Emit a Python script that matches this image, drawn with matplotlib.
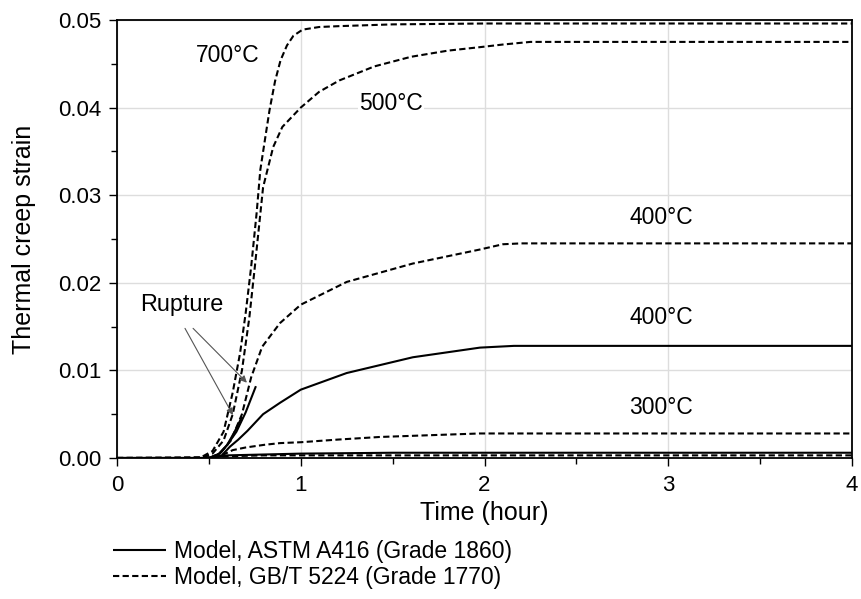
import matplotlib
matplotlib.use("Agg")
import matplotlib.pyplot as plt

plt.rcParams['font.family'] = ['Liberation Sans', 'DejaVu Sans']

# GB/T 5224 (dashed) series
t_d700 = [0, 0.45, 0.52, 0.58, 0.63, 0.67, 0.70, 0.73, 0.76, 0.78, 0.81, 0.83, 0.86, 0.89, 0.925, 0.96, 1.01, 1.1, 1.21, 1.5, 2.0, 4.0]
e_d700 = [0, 0, 0.0008, 0.003, 0.0075, 0.012, 0.0165, 0.0218, 0.028, 0.0329, 0.037, 0.0397, 0.043, 0.0454, 0.0471, 0.0482, 0.0489, 0.0492, 0.0493, 0.0495, 0.0496, 0.0496]

t_d500 = [0, 0.45, 0.52, 0.58, 0.63, 0.68, 0.72, 0.75, 0.795, 0.85, 0.90, 1.0, 1.1, 1.21, 1.4, 1.6, 1.8, 1.975, 2.1, 2.25, 4.0]
e_d500 = [0, 0, 0.0005, 0.002, 0.005, 0.010, 0.016, 0.0218, 0.0309, 0.0355, 0.0378, 0.0400, 0.0418, 0.0431, 0.0447, 0.0458, 0.0465, 0.0469, 0.0472, 0.0475, 0.0475]

t_d400 = [0, 0.5, 0.56, 0.62, 0.68, 0.73, 0.79, 0.887, 1.0, 1.25, 1.61, 1.975, 2.1, 2.2, 4.0]
e_d400 = [0, 0, 0.0005, 0.002, 0.005, 0.0092, 0.0127, 0.0154, 0.0175, 0.0201, 0.0222, 0.0238, 0.0244, 0.0245, 0.0245]

t_d300 = [0, 0.5, 0.58, 0.63, 0.7, 0.8, 0.887, 1.0, 1.2, 1.43, 1.7, 1.975, 2.1, 4.0]
e_d300 = [0, 0, 0.0004, 0.0009, 0.0012, 0.0015, 0.0017, 0.0018, 0.0021, 0.0024, 0.0026, 0.0028, 0.0028, 0.0028]

t_dlow = [0, 0.3, 0.5, 0.6, 0.8, 1.0, 1.5, 4.0]
e_dlow = [0, 0.00005, 0.0001, 0.0002, 0.0003, 0.0003, 0.0003, 0.0003]

# ASTM A416 (solid) series
t_s400 = [0, 0.52, 0.57, 0.615, 0.66, 0.71, 0.795, 0.887, 1.0, 1.25, 1.61, 1.975, 2.16, 4.0]
e_s400 = [0, 0, 0.0003, 0.0013, 0.0021, 0.0031, 0.0050, 0.0063, 0.0078, 0.0097, 0.0115, 0.0126, 0.0128, 0.0128]

t_slow = [0, 0.5, 0.6, 0.8, 1.0, 1.5, 2.0, 4.0]
e_slow = [0, 0, 0.0003, 0.0004, 0.0005, 0.0006, 0.0006, 0.0006]

t_srA = [0, 0.5, 0.56, 0.6, 0.65, 0.7, 0.756]
e_srA = [0, 0, 0.0005, 0.0015, 0.003, 0.0052, 0.0082]

t_srB = [0, 0.5, 0.55, 0.6, 0.64, 0.68]
e_srB = [0, 0, 0.0004, 0.0015, 0.003, 0.0047]

xticks = [0, 1, 2, 3, 4]
yticks = [0.00, 0.01, 0.02, 0.03, 0.04, 0.05]

fig = plt.figure(figsize=(8.61, 5.99), dpi=100)
ax = fig.add_axes([117/861, 1 - 458/599, (852 - 117)/861, (458 - 20)/599])

lw = 1.5
dash = (3, 1.6)
kw_s = dict(color='black', lw=lw, solid_capstyle='butt')
kw_d = dict(color='black', lw=lw, linestyle=(0, dash))

for t, e in [(t_dlow, e_dlow), (t_d300, e_d300), (t_d400, e_d400), (t_d500, e_d500), (t_d700, e_d700)]:
    ax.plot(t, e, **kw_d)
for t, e in [(t_slow, e_slow), (t_s400, e_s400), (t_srA, e_srA), (t_srB, e_srB)]:
    ax.plot(t, e, **kw_s)

ax.set_xlim(0, 4)
ax.set_ylim(0, 0.05)
ax.set_xticks(xticks)
ax.set_yticks(yticks)
ax.set_xticklabels([str(v) for v in xticks])
ax.set_yticklabels([f"{v:.2f}" for v in yticks])
ax.set_xticks([0.5, 1.5, 2.5, 3.5], minor=True)
ax.set_yticks([0.005, 0.015, 0.025, 0.035, 0.045], minor=True)
ax.tick_params(which='major', direction='out', length=6, width=1, labelsize=16, colors='black')
ax.tick_params(axis='x', which='major', pad=6)
ax.tick_params(axis='y', which='major', pad=5)
ax.tick_params(which='minor', direction='out', length=4, width=1)
ax.grid(True, which='major', color='#dddddd', lw=1)
ax.set_axisbelow(True)
for s in ax.spines.values():
    s.set_linewidth(1.3)
ax.set_xlabel("Time (hour)", fontsize=18, va='center')
ax.xaxis.set_label_coords(0.5, (458 - 513) / 438)
ax.set_ylabel("Thermal creep strain", fontsize=18, va='center')
ax.yaxis.set_label_coords((24 - 117) / 735, 0.5)

fs = 16.5
ax.text(0.6, 0.0460, "700°C", fontsize=fs, ha='center', va='center')
ax.text(1.49, 0.0405, "500°C", fontsize=fs, ha='center', va='center',
        bbox=dict(facecolor='white', edgecolor='none', pad=1))
ax.text(2.96, 0.0275, "400°C", fontsize=fs, ha='center', va='center')
ax.text(2.96, 0.0160, "400°C", fontsize=fs, ha='center', va='center')
ax.text(2.96, 0.0058, "300°C", fontsize=fs, ha='center', va='center')

ax.text(0.354, 0.0175, "Rupture", fontsize=16.8, ha='center', va='center')
aprops = dict(arrowstyle='-|>', color='#555555', lw=0.8, mutation_scale=10, shrinkA=0, shrinkB=0)
ax.annotate("", xy=(0.707, 0.0086), xytext=(0.414, 0.0148), arrowprops=aprops)
ax.annotate("", xy=(0.631, 0.0049), xytext=(0.370, 0.0148), arrowprops=aprops)

h1, = ax.plot([], [], **kw_s)
h2, = ax.plot([], [], **kw_d)
fig.legend([h1, h2], ["Model, ASTM A416 (Grade 1860)", "Model, GB/T 5224 (Grade 1770)"],
           loc='upper left', bbox_to_anchor=(113/861, 1 - 540/599), frameon=False,
           fontsize=16.5, handlelength=2.3, handletextpad=0.35, labelspacing=0.15,
           borderpad=0, borderaxespad=0)

fig.savefig("out.png", dpi=100)
